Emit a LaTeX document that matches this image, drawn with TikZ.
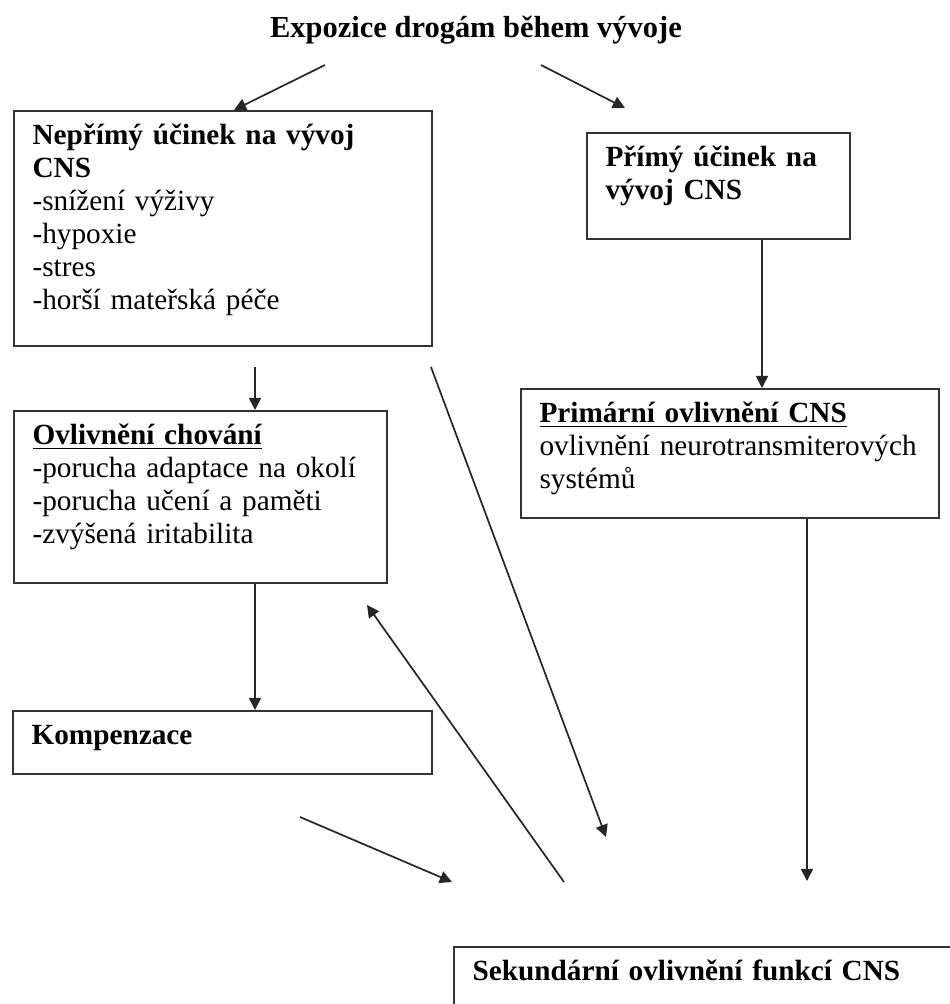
\documentclass[tikz,border=0pt]{standalone}
\usepackage{fontspec}
\setmainfont{Liberation Serif}
\usetikzlibrary{arrows.meta}

\begin{document}
\begin{tikzpicture}[x=0.41pt, y=-0.41pt,
  box/.style={draw=black!80, line width=0.8pt, anchor=north west, align=left,
              inner xsep=7.6pt, inner ysep=5.3pt, text height=8.6pt,
              font=\fontsize{12}{13.5}\selectfont},
  arr/.style={-{Triangle[length=5pt,width=5pt]}, line width=0.7pt, black!85}
]
  \useasboundingbox (0,0) rectangle (950,1004);
  \clip (0,0) rectangle (950,1004);

  \node[font=\bfseries\fontsize{12.5}{15}\selectfont, anchor=base] (title) at (476,37)
    {Expozice drogám během vývoje};

  \node[box, text width=156.2pt, text depth=77.1pt] (nepr) at (13,110)
    {\textbf{Nepřímý účinek na vývoj}\\\textbf{CNS}\\-snížení výživy\\-hypoxie\\-stres\\-horší mateřská péče};
  \node[box, text width=92.7pt, text depth=24.2pt] (primy) at (586,132)
    {\textbf{Přímý účinek na}\\\textbf{vývoj CNS}};
  \node[box, text width=137.8pt, text depth=51.3pt] (ovl) at (13,410)
    {\textbf{\underline{Ovlivnění chování}}\\-porucha adaptace na okolí\\-porucha učení a paměti\\-zvýšená iritabilita};
  \node[box, text width=156.2pt, text depth=33.6pt] (prim) at (520,388)
    {\textbf{\underline{Primární ovlivnění CNS}}\\ovlivnění neurotransmiterových\\systémů};
  \node[box, text width=156.6pt, text depth=6.6pt] (komp) at (12,710)
    {\textbf{Kompenzace}};
  \node[box, text width=214pt, text depth=21.7pt] (sek) at (453,946)
    {\textbf{Sekundární ovlivnění funkcí CNS}};

  % free ends and columns
  \coordinate (colL) at (255,0);
  \coordinate (colR) at (762,0);
  \coordinate (colS) at (807,0);
  \coordinate (inL) at (234,0);
  \coordinate (titleL) at (325,65);
  \coordinate (titleR) at (541,65);
  \coordinate (tipR) at (625,108);
  \coordinate (neprOut) at (255,367);
  \coordinate (diagA) at (431,367);
  \coordinate (diagB) at (606,837);
  \coordinate (backA) at (564,882);
  \coordinate (backB) at (367,605);
  \coordinate (kompA) at (300,817);
  \coordinate (kompB) at (452,882);
  \coordinate (sekIn) at (807,881);

  \draw[arr] (titleL) -- (inL |- nepr.north);
  \draw[arr] (titleR) -- (tipR);
  \draw[arr] (primy.south -| colR) -- (prim.north -| colR);
  \draw[arr] (neprOut) -- (ovl.north -| colL);
  \draw[arr] (ovl.south -| colL) -- (komp.north -| colL);
  \draw[arr] (diagA) -- (diagB);
  \draw[arr] (backA) -- (backB);
  \draw[arr] (kompA) -- (kompB);
  \draw[arr] (prim.south -| colS) -- (sekIn);
\end{tikzpicture}
\end{document}
